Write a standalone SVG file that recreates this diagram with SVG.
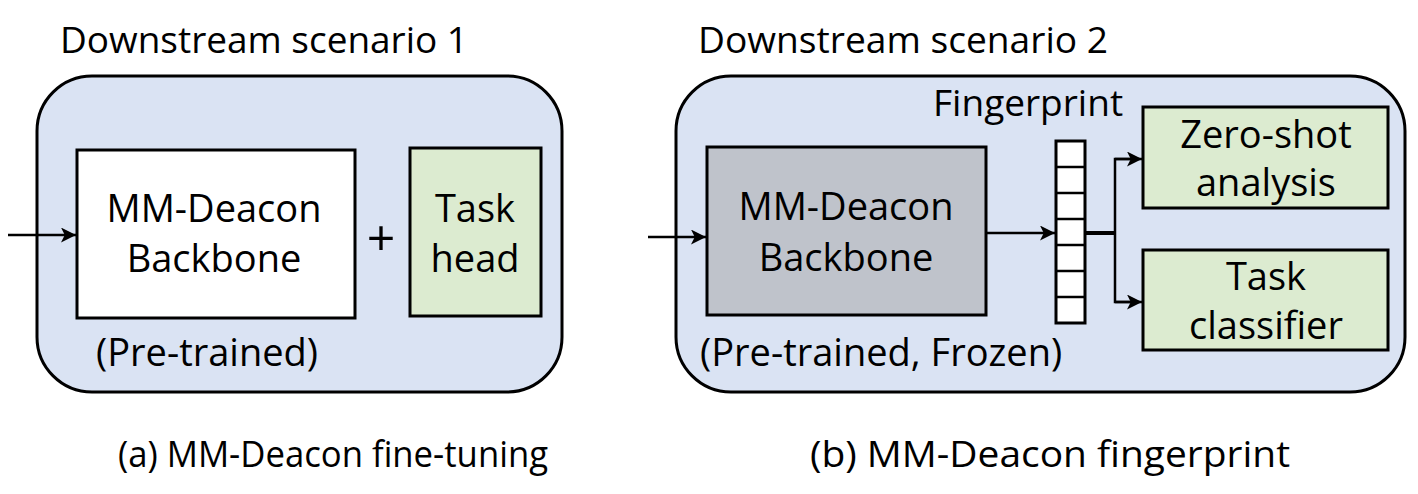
<svg xmlns="http://www.w3.org/2000/svg" width="1418" height="494" viewBox="0 0 1418 494">
<defs>
<marker id="arr" viewBox="0 0 12 12" refX="12" refY="6" markerWidth="15" markerHeight="15" orient="auto" markerUnits="userSpaceOnUse">
<path d="M0,0 L12,6 L0,12 L3,6 z" fill="#000"/>
</marker>
</defs>
<style>
text{font-family:"Open Sans","Liberation Sans",sans-serif;fill:#000;}
.t{font-size:37px;}
.p{font-size:38px;}
.n{font-size:38px;text-anchor:middle;}
.panel{fill:#dae3f3;stroke:#000;stroke-width:3;}
.box{stroke:#000;stroke-width:3;}
.green{fill:#dcebd0;}
.line{stroke:#000;stroke-width:2.5;fill:none;}
</style>
<rect width="1418" height="494" fill="#fff"/>

<g id="panelA">
<text class="t" x="60" y="53" textLength="408" lengthAdjust="spacingAndGlyphs">Downstream scenario 1</text>
<rect class="panel" x="37" y="76" width="525" height="316" rx="55"/>
</g>
<g id="backboneA">
<rect class="box" x="77" y="150" width="278" height="168" fill="#fff"/>
<text class="n" x="214" y="222">MM-Deacon</text>
<text class="n" x="214" y="272">Backbone</text>
</g>
<g id="plus"><text class="n" x="381" y="256" style="font-size:50px">+</text></g>
<g id="taskhead">
<rect class="box green" x="410" y="148" width="131" height="168"/>
<text class="n" x="475" y="222">Task</text>
<text class="n" x="475" y="272">head</text>
</g>
<g id="pretrainedA"><text class="p" x="96" y="366">(Pre-trained)</text></g>
<g id="captionA"><text class="t" x="118" y="467" textLength="430" lengthAdjust="spacingAndGlyphs">(a) MM-Deacon fine-tuning</text></g>

<g id="panelB">
<text class="t" x="698" y="53" textLength="410" lengthAdjust="spacingAndGlyphs">Downstream scenario 2</text>
<rect class="panel" x="676" y="76" width="729" height="316" rx="55"/>
</g>
<g id="backboneB">
<rect class="box" x="707" y="147" width="279" height="168" fill="#bfc3cb"/>
<text class="n" x="846" y="220">MM-Deacon</text>
<text class="n" x="846" y="271">Backbone</text>
</g>
<g id="fingerprint">
<text class="t" x="933" y="116">Fingerprint</text>
<rect x="1056" y="141" width="29" height="182" fill="#fff" stroke="#000" stroke-width="3"/>
<g class="line">
<line x1="1056" y1="167" x2="1085" y2="167"/>
<line x1="1056" y1="193" x2="1085" y2="193"/>
<line x1="1056" y1="219" x2="1085" y2="219"/>
<line x1="1056" y1="245" x2="1085" y2="245"/>
<line x1="1056" y1="271" x2="1085" y2="271"/>
<line x1="1056" y1="297" x2="1085" y2="297"/>
</g>
</g>
<g id="zeroshot">
<rect class="box green" x="1143" y="107" width="245" height="101"/>
<text class="n" x="1266" y="148">Zero-shot</text>
<text class="n" x="1266" y="196">analysis</text>
</g>
<g id="classifier">
<rect class="box green" x="1143" y="250" width="245" height="100"/>
<text class="n" x="1266" y="290">Task</text>
<text class="n" x="1266" y="339">classifier</text>
</g>
<g id="pretrainedB"><text class="p" x="700" y="366">(Pre-trained, Frozen)</text></g>
<g id="captionB"><text class="t" x="810" y="467" textLength="480" lengthAdjust="spacingAndGlyphs">(b) MM-Deacon fingerprint</text></g>

<g id="connectors">
<line class="line" x1="8" y1="235" x2="76" y2="235" marker-end="url(#arr)"/>
<line class="line" x1="648" y1="237" x2="706" y2="237" marker-end="url(#arr)"/>
<line class="line" x1="986" y1="233" x2="1055" y2="233" marker-end="url(#arr)"/>
<line x1="1085" y1="233" x2="1116" y2="233" stroke="#000" stroke-width="4"/>
<polyline class="line" points="1130,159 1115,159 1115,302 1130,302"/>
<line class="line" x1="1115" y1="159" x2="1142" y2="159" marker-end="url(#arr)"/>
<line class="line" x1="1115" y1="302" x2="1142" y2="302" marker-end="url(#arr)"/>
</g>
</svg>
